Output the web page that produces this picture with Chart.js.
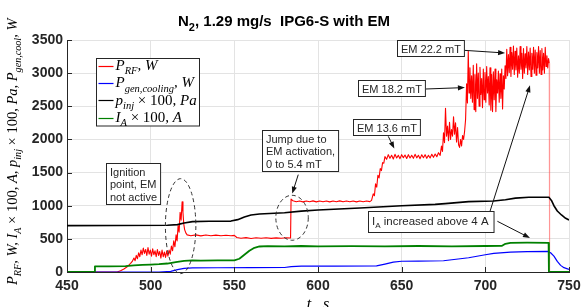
<!DOCTYPE html>
<html>
<head>
<meta charset="utf-8">
<script src="https://cdn.jsdelivr.net/npm/chart.js@4.4.1/dist/chart.umd.min.js"></script>
<style>
  html, body { margin: 0; padding: 0; background: #fff; }
  #wrap { width: 582px; height: 307px; }
</style>
</head>
<body>
<div id="wrap"><canvas id="chart" width="582" height="307"></canvas></div>
<script>
// ─── Data (time in s, values as plotted) ─────────────────────────────────────

const tTicks = [450, 500, 550, 600, 650, 700, 750];
const vTicks = [0, 500, 1000, 1500, 2000, 2500, 3000, 3500];

// P_RF, W
const pRF = [
  [450,0],[480,0],[482,20],[484,45],[486,80],[488,130],[489,160],[490,210],[490.7,170],[491.4,250],
  [492.1,200],[492.8,290],[493.5,230],[494.2,330],[494.9,260],[495.6,360],[496.3,280],[497,340],[497.7,250],
  [498.4,370],[499.1,270],[499.8,330],[500.5,240],[501.2,350],[501.9,260],[502.6,320],[503.3,230],[504,340],
  [504.7,250],[505.4,310],[506.1,210],[506.8,330],[507.5,230],[508.2,300],[508.9,220],[509.6,320],[510.3,240],
  [511,330],[511.7,270],[512.4,390],[513.1,320],[513.8,470],[514.5,380],[515.2,560],[515.8,470],[516.4,700],
  [517,600],[517.6,900],[518.2,780],[518.8,1060],[519.3,900],[519.8,720],[520.3,640],[521,590],[521.8,560],
  [524,548],[527,560],[530,545],[533,558],[536,547],[539,556],[542,546],[545,555],[548,548],[550,552],
  [551.5,520],[554,510],[557,518],[560,506],[563,516],[566,508],[569,517],[572,507],[575,515],[578,509],
  [581,516],[583.6,512],[583.9,1100],[585,1075],[587,1060],[589,1072],[591,1058],[593,1070],[595,1060],
  [597,1073],[599,1058],[601,1070],[603,1060],[605,1072],[607,1058],[609,1070],[611,1061],[613,1073],
  [615,1059],[617,1071],[619,1060],[621,1072],[623,1058],[625,1070],[627,1060],[629,1072],[631,1062],
  [632,1080],[633,1180],[633.7,1150],[634.4,1330],[635.1,1280],[635.8,1460],[636.5,1420],[637.2,1560],
  [637.9,1530],[638.6,1650],[639.3,1640],[640,1740],[641,1700],[642,1770],[643,1715],[644,1760],[645,1705],
  [646,1775],[647,1720],[648,1760],[649,1710],[650,1770],[651,1725],[652,1765],[653,1712],[654,1770],
  [655,1720],[656,1760],[657,1715],[658,1775],[659,1722],[660,1762],[661,1710],[662,1768],[663,1725],
  [664,1770],[665,1715],[666,1760],[667,1720],[668,1775],[669,1730],[670,1780],[671,1740],[672,1800],
  [673,1760],[673.8,1900],[674.4,1820],[675,2100],[675.6,1950],[676.2,2470],[676.8,2050],[677.4,2200],
  [678,1980],[678.6,2260],[679.2,2000],[679.8,2150],[680.4,2050],[681,2340],[681.6,2080],[682.2,2250],
  [682.8,1960],[683.4,2180],[684,1920],[684.6,1880],[685.2,2000],[685.8,1900],[686.4,2060],[687,2000],
  [687.6,2120],[688.2,2300],[688.8,2840],[689.3,2550],[689.8,3330],[690.3,2700],[690.8,3080],[691.3,2620],
  [691.8,2960],[692.3,2560],[692.8,3120],[693.3,2450],[693.8,2980],[694.3,2420],[694.8,3140],[695.3,2620],
  [695.8,3000],[696.3,2500],[696.8,3090],[697.3,2680],[697.8,2920],[698.3,2480],[698.8,3060],[699.3,2600],
  [699.8,3010],[700.3,2560],[700.8,3100],[701.3,2700],[701.8,2950],[702.3,2520],[702.8,3080],[703.3,2440],
  [703.8,2980],[704.3,2420],[704.8,3020],[705.3,2600],[705.8,3060],[706.3,2420],[706.8,2900],[707.3,2700],
  [707.8,3030],[708.3,2560],[708.8,2990],[709.3,2620],[709.8,3060],[710.3,2460],[710.8,2960],[711.3,2760],
  [711.8,3110],[712.3,2920],[712.8,3360],[713.3,2960],[713.8,3280],[714.3,3010],[714.8,3390],[715.3,2950],
  [715.8,3310],[716.3,3060],[716.8,3410],[717.3,2980],[717.8,3330],[718.3,3050],[718.8,3380],[719.3,2940],
  [719.8,3260],[720.3,3000],[720.8,3400],[721.3,3060],[721.8,3300],[722.3,2920],[722.8,3370],[723.3,3000],
  [723.8,3290],[724.3,3080],[724.8,3400],[725.3,2980],[725.8,3320],[726.3,3050],[726.8,3380],[727.3,2950],
  [727.8,3300],[728.3,3060],[728.8,3390],[729.3,3000],[729.8,3350],[730.3,2970],[730.8,3310],[731.3,3080],
  [731.8,3400],[732.3,3000],[732.8,3340],[733.3,2980],[733.8,3370],[734.3,3050],[734.8,3300],[735.3,3000],
  [735.8,3390],[736.3,3100],[736.8,3260],[737.3,3080],[737.8,3220],[738.2,3150],[738.4,0],[750,0]
];

// P_gen,cooling, W
const pGenCool = [
  [450,0],[505,0],[512,10],[516,35],[520,55],[525,62],[540,64],[560,66],[580,68],[584,80],[590,88],
  [610,88],[635,92],[640,120],[645,150],[650,162],[660,165],[675,170],[680,185],[690,215],[700,260],
  [705,280],[715,300],[725,308],[737.5,310],[739,290],[741,240],[743,160],[745,100],[747,65],[750,40]
];

// p_inj x 100, Pa
const pInj = [
  [450,700],[480,702],[510,705],[516,715],[520,740],[525,760],[535,765],[548,768],[552,790],[556,830],
  [560,860],[565,875],[580,895],[590,918],[600,935],[625,965],[650,1000],[670,1020],[676,1032],[690,1062],
  [705,1070],[712,1090],[718,1115],[726,1127],[738,1128],[739.5,1080],[741,1000],[743,920],[745.5,860],
  [748,810],[750,785]
];

// I_A x 100, A
const iArc = [
  [450,0],[466.5,0],[466.7,86],[475,86],[485,88],[490,100],[495,108],[500,112],[505,118],[510,128],
  [515,150],[520,168],[525,175],[530,172],[540,175],[550,176],[553,200],[556,260],[559,320],[562,365],
  [565,385],[570,390],[580,388],[590,392],[600,388],[620,390],[640,387],[660,392],[680,388],[700,392],
  [710,395],[712,425],[715,440],[725,442],[737.8,440],[738,0],[750,0]
];

// rich text parts: [text, flags]  s = subscript, r = upright
const legendItems = [
  { color: '#ff0000', parts: [['P'], ['RF', 's'], [', W']] },
  { color: '#0000ff', parts: [['P'], ['gen,cooling', 's'], [', W']] },
  { color: '#000000', parts: [['p'], ['inj', 's'], [' \u00d7 100, ', 'r'], ['Pa']] },
  { color: '#008000', parts: [['I'], ['A', 's'], [' \u00d7 100, ', 'r'], ['A']] },
];
const yTitle = [['P'], ['RF', 's'], [', W, '], ['I'], ['A', 's'], [' \u00d7 100, ', 'r'], ['A, '],
  ['p'], ['inj', 's'], [' \u00d7 100, ', 'r'], ['Pa, '], ['P'], ['gen,cool', 's'], [', W']];

// annotation boxes (top-left corner in data units), arrows and dashed ellipses
const notes = [
  { t: 473.3, v: 1644, lines: [[['Ignition']], [['point, EM']], [['not active']]] },
  { t: 566.4, v: 2138, lines: [[['Jump due to']], [['EM activation,']], [['0 to 5.4 mT']]] },
  { t: 620.7, v: 2303, lines: [[['EM 13.6 mT']]] },
  { t: 624.1, v: 2892, lines: [[['EM 18.2 mT']]] },
  { t: 647.0, v: 3495, lines: [[['EM 22.2 mT']]] },
  { t: 630.1, v: 916,  lines: [[['I'], ['A', 's'], [' increased above 4 A']]] },
];
const arrows = [
  [[588.2, 1469], [584.6, 1183]],
  [[642.0, 2047], [645.6, 1862]],
  [[664.5, 2761], [687.8, 2782]],
  [[687.4, 3344], [711.8, 3304]],
  [[707.2, 765],  [726.7, 513]],
  [[702.8, 916],  [726.7, 2816]],
];
const ellipses = [
  { t: 517.9, v: 692, rt: 9.1, rv: 716 },
  { t: 584.5, v: 818, rt: 9.7, rv: 339 },
];

// ─── Drawing helpers ─────────────────────────────────────────────────────────

const SERIF = '"Liberation Serif", "DejaVu Serif", serif';
const SANS  = '"Liberation Sans", Arial, sans-serif';
const INK   = '#262626';

function _richText(ctx, parts, x, y, size, family, italic) {
  let cx = x;
  parts.forEach(([text, flags = '']) => {
    const sub = flags.includes('s');
    const upright = flags.includes('r') || !italic;
    const sz = sub ? size * 0.7 : size;
    ctx.font = `${upright ? '' : 'italic '}${sz}px ${family}`;
    ctx.fillText(text, cx, sub ? y + size * 0.28 : y);
    cx += ctx.measureText(text).width;
  });
  return cx - x;
}

function _measureRich(ctx, parts, size, family, italic) {
  let w = 0;
  parts.forEach(([text, flags = '']) => {
    const sz = flags.includes('s') ? size * 0.7 : size;
    ctx.font = `${(flags.includes('r') || !italic) ? '' : 'italic '}${sz}px ${family}`;
    w += ctx.measureText(text).width;
  });
  return w;
}

function _arrow(ctx, x0, y0, x1, y1) {
  const a = Math.atan2(y1 - y0, x1 - x0);
  const len = 7, half = 2.6;
  ctx.beginPath();
  ctx.moveTo(x0, y0);
  ctx.lineTo(x1 - Math.cos(a) * len * 0.8, y1 - Math.sin(a) * len * 0.8);
  ctx.stroke();
  ctx.beginPath();
  ctx.moveTo(x1, y1);
  ctx.lineTo(x1 - Math.cos(a) * len - Math.sin(a) * half, y1 - Math.sin(a) * len + Math.cos(a) * half);
  ctx.lineTo(x1 - Math.cos(a) * len + Math.sin(a) * half, y1 - Math.sin(a) * len - Math.cos(a) * half);
  ctx.closePath();
  ctx.fill();
}

const figurePlugin = {
  id: 'figure',
  afterDatasetsDraw(chart) {
    const ctx = chart.ctx;
    const xs = chart.scales.x, ys = chart.scales.y;
    const area = chart.chartArea;
    ctx.save();

    // inward tick marks
    ctx.strokeStyle = INK;
    ctx.lineWidth = 1;
    ctx.beginPath();
    tTicks.forEach(t => {
      const x = Math.round(xs.getPixelForValue(t)) + 0.5;
      ctx.moveTo(x, area.bottom); ctx.lineTo(x, area.bottom - 5);
    });
    vTicks.forEach(v => {
      const y = Math.round(ys.getPixelForValue(v)) + 0.5;
      ctx.moveTo(area.left, y); ctx.lineTo(area.left + 5, y);
    });
    ctx.stroke();

    // dashed ellipses
    ctx.strokeStyle = '#333';
    ctx.setLineDash([4, 3]);
    ellipses.forEach(e => {
      const cx = xs.getPixelForValue(e.t), cy = ys.getPixelForValue(e.v);
      const rx = xs.getPixelForValue(e.t + e.rt) - cx;
      const ry = cy - ys.getPixelForValue(e.v + e.rv);
      ctx.beginPath();
      ctx.ellipse(cx, cy, rx, ry, 0, 0, Math.PI * 2);
      ctx.stroke();
    });
    ctx.setLineDash([]);

    // arrows
    ctx.strokeStyle = '#111';
    ctx.fillStyle = '#111';
    arrows.forEach(([[t0, v0], [t1, v1]]) => {
      _arrow(ctx, xs.getPixelForValue(t0), ys.getPixelForValue(v0), xs.getPixelForValue(t1), ys.getPixelForValue(v1));
    });

    // text boxes
    const fs = 11, lh = 12.8;
    notes.forEach(n => {
      const x = Math.round(xs.getPixelForValue(n.t)) + 0.5;
      const y = Math.round(ys.getPixelForValue(n.v)) + 0.5;
      const hasSub = n.lines.some(l => l.some(p => (p[1] || '').includes('s')));
      const w = Math.max(...n.lines.map(l => _measureRich(ctx, l, fs, SANS, false))) + (hasSub ? 14 : 7);
      const h = Math.round(n.lines.length * lh + 3 + (hasSub ? 5 : 0));
      ctx.fillStyle = '#fff';
      ctx.fillRect(x, y, w, h);
      ctx.strokeStyle = INK;
      ctx.strokeRect(x, y, w, h);
      ctx.fillStyle = INK;
      ctx.textBaseline = 'alphabetic';
      n.lines.forEach((l, i) => _richText(ctx, l, x + 3.5, y + 12 + i * lh + (hasSub ? 1 : 0), hasSub ? 11.5 : fs, SANS, false));
    });

    // legend
    const lx = area.left + 29.5, ly = area.top + 18.5, lw = 103, lhgt = 67.5;
    ctx.fillStyle = '#fff';
    ctx.fillRect(lx, ly, lw, lhgt);
    ctx.strokeStyle = INK;
    ctx.strokeRect(lx, ly, lw, lhgt);
    legendItems.forEach((item, i) => {
      const cy = ly + 7 + i * 17.4;
      ctx.strokeStyle = item.color;
      ctx.lineWidth = 1.2;
      ctx.beginPath();
      ctx.moveTo(lx + 2, Math.round(cy) + 0.5);
      ctx.lineTo(lx + 17, Math.round(cy) + 0.5);
      ctx.stroke();
      ctx.fillStyle = '#000';
      _richText(ctx, item.parts, lx + 19, cy + 4.5, 15, SERIF, true);
    });
    ctx.restore();
  },

  afterDraw(chart) {
    const ctx = chart.ctx;
    const area = chart.chartArea;
    ctx.save();
    ctx.fillStyle = '#000';
    ctx.textBaseline = 'alphabetic';

    // title
    const mainFont = `bold 15px ${SANS}`;
    ctx.font = mainFont;
    const rest = ', 1.29 mg/s  IPG6-S with EM';
    const wN = ctx.measureText('N').width, wRest = ctx.measureText(rest).width;
    ctx.font = `bold 11px ${SANS}`;
    const w2 = ctx.measureText('2').width;
    let x = 284 - (wN + w2 + wRest) / 2;
    ctx.font = mainFont;
    ctx.fillText('N', x, 26);
    ctx.font = `bold 11px ${SANS}`;
    ctx.fillText('2', x + wN, 31);
    ctx.font = mainFont;
    ctx.fillText(rest, x + wN + w2, 26);

    // x-axis title
    ctx.font = `italic 16px ${SERIF}`;
    ctx.textAlign = 'center';
    ctx.fillText('t,  s', (area.left + area.right) / 2, 309);
    ctx.textAlign = 'left';

    // y-axis title, rotated
    ctx.translate(17, 285);
    ctx.rotate(-Math.PI / 2);
    _richText(ctx, yTitle, 0, 0, 14.5, SERIF, true);
    ctx.restore();
  },
};

// ─── Chart ───────────────────────────────────────────────────────────────────

const toXY = arr => arr.map(([x, y]) => ({ x, y }));
const lineStyle = { pointRadius: 0, fill: false, tension: 0, borderJoinStyle: 'round' };

new Chart(document.getElementById('chart'), {
  type: 'line',
  data: {
    datasets: [
      { ...lineStyle, label: 'I_A x 100, A', data: toXY(iArc), borderColor: '#008000', borderWidth: 1.8 },
      { ...lineStyle, label: 'p_inj x 100, Pa', data: toXY(pInj), borderColor: '#000000', borderWidth: 1.6 },
      { ...lineStyle, label: 'P_gen,cooling, W', data: toXY(pGenCool), borderColor: '#0000ff', borderWidth: 1.2 },
      {
        ...lineStyle, label: 'P_RF, W', data: toXY(pRF), borderColor: '#ff0000', borderWidth: 1.1,
        segment: {
          borderColor: ctx => (ctx.p0.parsed.y > 2000 && ctx.p1.parsed.y === 0) ? 'rgba(255, 80, 80, 0.6)' : undefined,
        },
      },
    ],
  },
  options: {
    responsive: false,
    devicePixelRatio: 1,
    animation: false,
    events: [],
    layout: { padding: { top: 40, right: 13, left: 0, bottom: 0 } },
    plugins: { legend: { display: false }, tooltip: { enabled: false }, title: { display: false } },
    scales: {
      x: {
        type: 'linear',
        min: 450,
        max: 750,
        afterBuildTicks: s => { s.ticks = tTicks.map(value => ({ value })); },
        afterFit: s => { s.height = 35; s.paddingLeft = 0; s.paddingRight = 0; },
        grid: { color: '#e3e3e3', drawTicks: false },
        border: { color: INK },
        ticks: { font: { family: SANS, size: 14, weight: 'bold' }, color: INK, padding: 6, maxRotation: 0,
                 callback: v => String(v) },
      },
      y: {
        min: 0,
        max: 3500,
        afterBuildTicks: s => { s.ticks = vTicks.map(value => ({ value })); },
        afterFit: s => { s.width = 67; s.paddingTop = 0; s.paddingBottom = 0; },
        grid: { color: '#e3e3e3', drawTicks: false },
        border: { color: INK },
        ticks: { font: { family: SANS, size: 14, weight: 'bold' }, color: INK, padding: 4,
                 callback: v => String(v) },
      },
    },
  },
  plugins: [figurePlugin],
});
</script>
</body>
</html>
